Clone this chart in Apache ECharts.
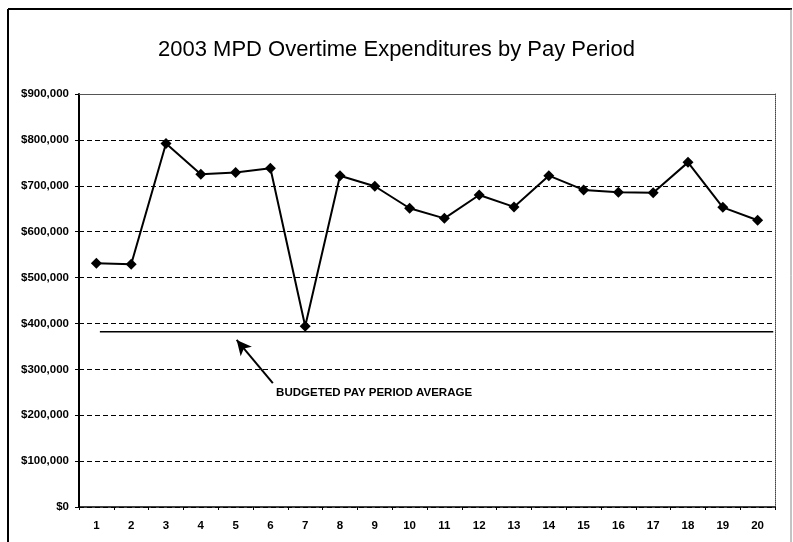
<!DOCTYPE html>
<html>
<head>
<meta charset="utf-8">
<script src="https://cdn.jsdelivr.net/npm/echarts@6/dist/echarts.min.js"></script>
<style>
html,body{margin:0;padding:0;background:#fff;}
#chart{width:793px;height:542px;}
</style>
</head>
<body>
<div id="chart"></div>
<script>
var titleText = '2003 MPD Overtime Expenditures by Pay Period';
var payPeriods = ['1','2','3','4','5','6','7','8','9','10','11','12','13','14','15','16','17','18','19','20'];
var overtime = [531000, 529000, 792000, 725000, 729000, 738000, 394000, 722000, 699000, 651000,
                629000, 680000, 654000, 722000, 691000, 686000, 685000, 751000, 653000, 625000];
var budgetAverage = 382000;
var budgetSpan = [0.6, 19.95];            // extent of the budget line in pay-period units
var arrowTip = [4.53, 364000];            // annotation arrow (pay-period units, dollars)
var arrowTail = [5.57, 270000];
var annotationAnchor = [5.52, 248000];
var annotationText = 'BUDGETED PAY PERIOD AVERAGE';
var yTicks = [0, 100000, 200000, 300000, 400000, 500000, 600000, 700000, 800000, 900000];

var chart = echarts.init(document.getElementById('chart'), null, {renderer: 'canvas'});
var FONT = 'Liberation Sans, Arial, sans-serif';

function money(v) {
  return '$' + String(v).replace(/\B(?=(\d{3})+(?!\d))/g, ',');
}

var option = {
  backgroundColor: '#fff',
  animation: false,
  title: {
    text: titleText,
    left: 'center',
    top: 34,
    textStyle: {fontFamily: FONT, fontSize: 22, fontWeight: 'normal', color: '#000'}
  },
  grid: {left: 79, right: 18, top: 94, bottom: 35},
  xAxis: [{
    type: 'category',
    data: payPeriods,
    boundaryGap: true,
    axisLine: {lineStyle: {color: '#000', width: 1.5}},
    axisTick: {show: true, length: 3, lineStyle: {color: '#000', width: 1}},
    axisLabel: {fontFamily: FONT, fontSize: 11.5, fontWeight: 'bold', color: '#000', margin: 13},
    splitLine: {show: false}
  }, {
    type: 'value',
    position: 'top',
    min: 0, max: 20,
    axisLine: {show: true, onZero: false, lineStyle: {color: '#555', width: 1}},
    axisTick: {show: false},
    axisLabel: {show: false},
    splitLine: {show: false}
  }],
  yAxis: [{
    type: 'value',
    min: 0, max: 900000, interval: 100000,
    axisLine: {show: true, lineStyle: {color: '#000', width: 2}},
    axisTick: {show: true, length: 4, lineStyle: {color: '#000'}},
    axisLabel: {fontFamily: FONT, fontSize: 11.5, fontWeight: 'bold', color: '#000', margin: 10,
                formatter: function (v) { return money(v); }},
    splitLine: {show: true, lineStyle: {color: '#000', width: 1, type: [5, 3]}}
  }, {
    type: 'value',
    position: 'right',
    min: 0, max: 900000, interval: 100000,
    axisLine: {show: true, lineStyle: {color: '#444', width: 1, type: 'dotted'}},
    axisTick: {show: false},
    axisLabel: {show: false},
    splitLine: {show: false}
  }],
  series: [{
    name: 'Overtime',
    type: 'line',
    xAxisIndex: 0,
    yAxisIndex: 0,
    data: overtime,
    symbol: 'diamond',
    symbolSize: 11,
    lineStyle: {color: '#000', width: 2},
    itemStyle: {color: '#000'},
    z: 5
  }, {
    name: 'Budget',
    type: 'line',
    xAxisIndex: 1,
    yAxisIndex: 0,
    data: [[budgetSpan[0], budgetAverage], [budgetSpan[1], budgetAverage]],
    symbol: 'none',
    lineStyle: {color: '#000', width: 1.6},
    z: 4,
    markLine: {
      silent: true,
      symbol: ['none', 'arrow'],
      symbolSize: [11, 15],
      lineStyle: {color: '#000', width: 2, type: 'solid'},
      label: {show: false},
      data: [[{coord: arrowTail}, {coord: arrowTip}]]
    },
    markPoint: {
      silent: true,
      symbol: 'circle',
      symbolSize: 0,
      label: {
        show: true,
        position: 'right',
        distance: 5,
        formatter: annotationText,
        fontFamily: FONT, fontSize: 11.5, fontWeight: 'bold', color: '#000'
      },
      data: [{coord: annotationAnchor}]
    }
  }],
  graphic: [
    {type: 'line', shape: {x1: 8, y1: 9, x2: 792, y2: 9}, style: {stroke: '#000', lineWidth: 2}},
    {type: 'line', shape: {x1: 8, y1: 9, x2: 8, y2: 542}, style: {stroke: '#000', lineWidth: 2}},
    {type: 'line', shape: {x1: 791, y1: 9, x2: 791, y2: 542}, style: {stroke: '#888', lineWidth: 1}}
  ]
};
chart.setOption(option);
</script>
</body>
</html>
